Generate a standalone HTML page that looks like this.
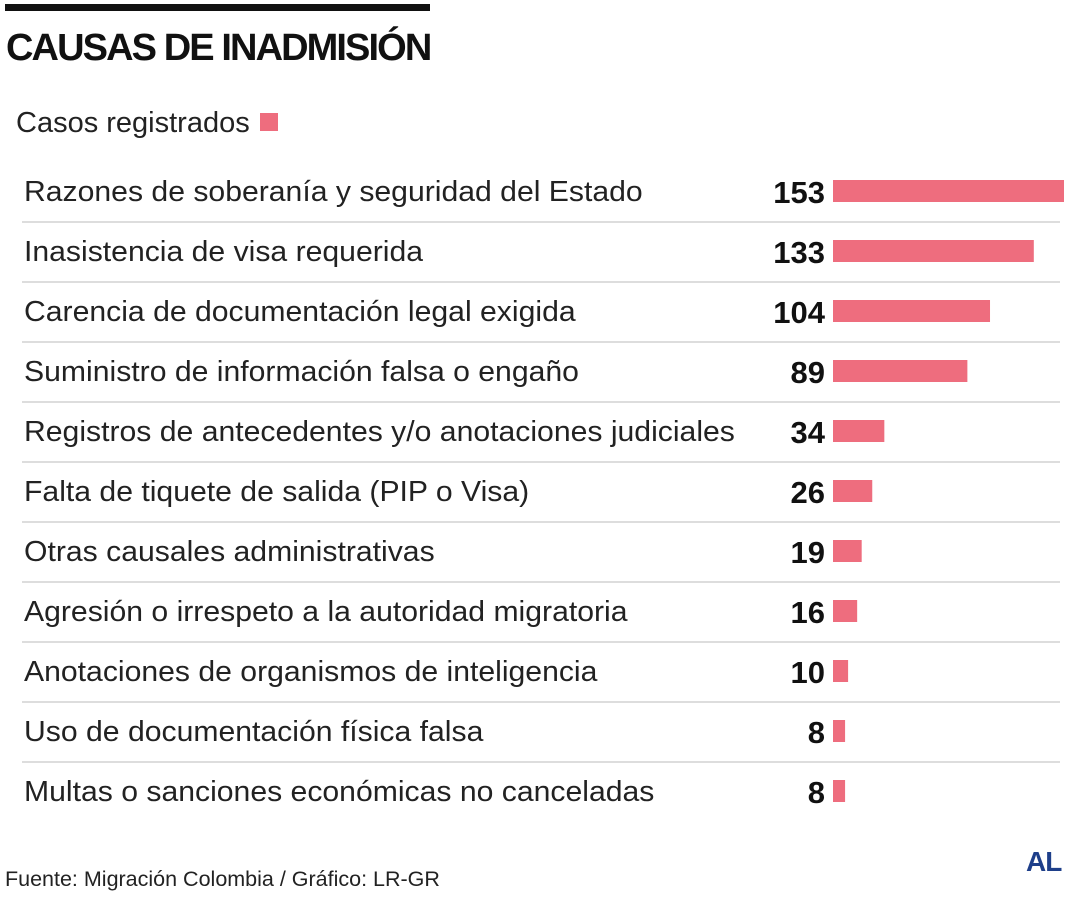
<!DOCTYPE html>
<html><head><meta charset="utf-8"><style>
body{margin:0;width:1080px;height:900px;background:#fff;font-family:"Liberation Sans",sans-serif;overflow:hidden;position:relative}
.abs{position:absolute}
</style></head><body>
<div class="abs" style="left:5px;top:4px;width:425px;height:7px;background:#111"></div>
<div class="abs" style="left:6px;top:27px;font-size:38px;font-weight:bold;color:#111;letter-spacing:-1.9px;white-space:nowrap">CAUSAS DE INADMISIÓN</div>
<div class="abs" style="left:16px;top:107px;font-size:29px;color:#222;letter-spacing:0px">Casos registrados <span style="display:inline-block;width:18px;height:18px;background:#ee6d7e;vertical-align:1px;margin-left:2px"></span></div>
<svg class="abs" style="left:0;top:0" width="1080" height="900" id="chart"></svg>
<div class="abs" style="left:5px;top:867px;font-size:21.5px;color:#222">Fuente: Migración Colombia / Gráfico: LR-GR</div>
<div class="abs" style="left:1026px;top:846px;font-size:28px;font-weight:bold;color:#1e3f8a;letter-spacing:-1px">AL</div>
<script>
const categories=["Razones de soberanía y seguridad del Estado","Inasistencia de visa requerida","Carencia de documentación legal exigida","Suministro de información falsa o engaño","Registros de antecedentes y/o anotaciones judiciales","Falta de tiquete de salida (PIP o Visa)","Otras causales administrativas","Agresión o irrespeto a la autoridad migratoria","Anotaciones de organismos de inteligencia","Uso de documentación física falsa","Multas o sanciones económicas no canceladas"];
const values=[153,133,104,89,34,26,19,16,10,8,8];
const svg=document.getElementById('chart');const NS='http://www.w3.org/2000/svg';
const x0=833,maxW=231,maxV=153;
const xScale=v=>v/maxV*maxW;
const yCenter=i=>191+i*60;
categories.forEach((c,i)=>{
 const y=yCenter(i);
 const t=document.createElementNS(NS,'text');
 
 
 t.setAttribute('x',24);t.setAttribute('y',y+10);t.setAttribute('font-size','29');t.setAttribute('fill','#222');
 t.textContent=c;svg.appendChild(t);
 const nat=t.getComputedTextLength();
 t.setAttribute('textLength',Math.min(nat*1.04,712));t.setAttribute('lengthAdjust','spacingAndGlyphs');
 const v=document.createElementNS(NS,'text');
 
 
 v.setAttribute('x',825);v.setAttribute('y',y+12);v.setAttribute('font-size','31');v.setAttribute('font-weight','bold');v.setAttribute('text-anchor','end');v.setAttribute('fill','#111');
 v.textContent=values[i];svg.appendChild(v);
 const r=document.createElementNS(NS,'rect');
 
 
 r.setAttribute('x',x0);r.setAttribute('y',y-11);r.setAttribute('width',xScale(values[i]));r.setAttribute('height',22);r.setAttribute('fill','#ee6d7e');
 svg.appendChild(r);
 if(i<categories.length-1){
  const l=document.createElementNS(NS,'line');
  
  
  l.setAttribute('x1',22);l.setAttribute('x2',1060);l.setAttribute('y1',y+31);l.setAttribute('y2',y+31);l.setAttribute('stroke','#bbb');l.setAttribute('stroke-width','1');
  svg.appendChild(l);
 }
});
</script>
</body></html>
